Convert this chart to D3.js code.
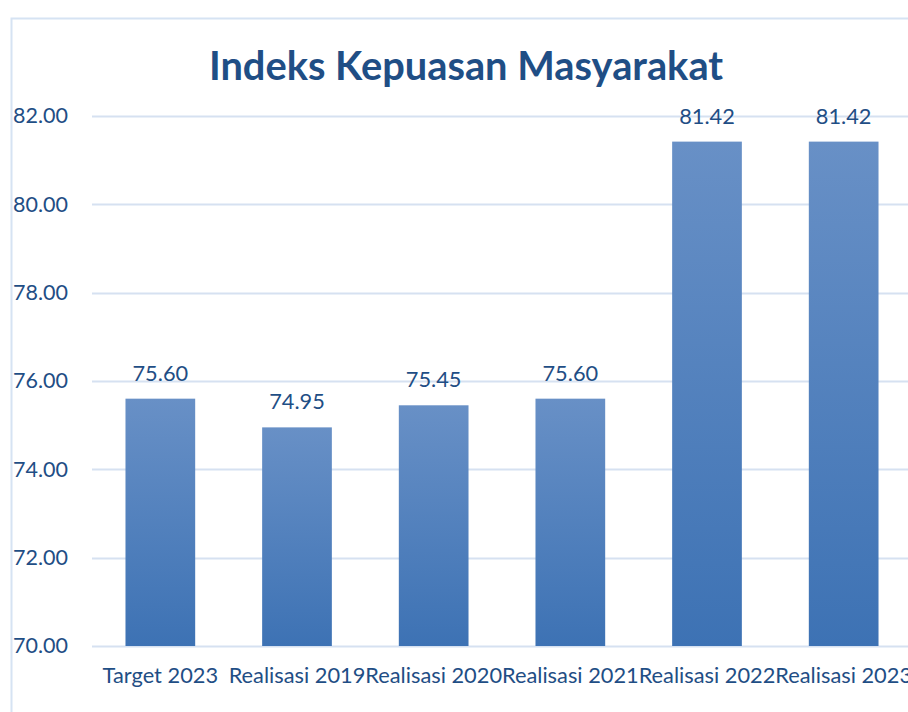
<!DOCTYPE html>
<html>
<head>
<meta charset="utf-8">
<script src="https://cdn.jsdelivr.net/npm/d3@7"></script>
<style>
  html, body { margin: 0; padding: 0; background: #fff; }
  svg { display: block; }
  text { font-family: Lato, "Open Sans", sans-serif; }
</style>
</head>
<body>
<svg id="chart" width="908" height="712"></svg>
<script>
const categories = ["Target 2023", "Realisasi 2019", "Realisasi 2020", "Realisasi 2021", "Realisasi 2022", "Realisasi 2023"];
const values = [75.60, 74.95, 75.45, 75.60, 81.42, 81.42];
const yTicks = [70, 72, 74, 76, 78, 80, 82];
const title = "Indeks Kepuasan Masyarakat";

const W = 908, H = 712;
const margin = { left: 92, right: -4, top: 116, bottom: 66 };
const textColor = "#1F4E85";
const gridColor = "#D6E1F1";

const svg = d3.select("#chart");

// outer chart frame
svg.append("rect")
  .attr("x", 11.5).attr("y", 18.5)
  .attr("width", 1000).attr("height", 1000)
  .attr("fill", "none").attr("stroke", "#D6E3F3").attr("stroke-width", 2);

const defs = svg.append("defs");
const grad = defs.append("linearGradient").attr("id", "barGrad")
  .attr("x1", 0).attr("y1", 0).attr("x2", 0).attr("y2", 1);
grad.append("stop").attr("offset", "0%").attr("stop-color", "#6890C6");
grad.append("stop").attr("offset", "100%").attr("stop-color", "#3D72B4");

const x = d3.scaleBand()
  .domain(categories)
  .range([margin.left, W - margin.right])
  .paddingInner(0.49).paddingOuter(0.245);

const y = d3.scaleLinear()
  .domain([70, 82])
  .range([H - margin.bottom, margin.top]);

// gridlines
svg.append("g")
  .selectAll("line")
  .data(yTicks)
  .join("line")
  .attr("x1", margin.left).attr("x2", W + 10)
  .attr("y1", d => Math.round(y(d)) + 0.5).attr("y2", d => Math.round(y(d)) + 0.5)
  .attr("stroke", gridColor).attr("stroke-width", 2);

// y axis labels
const yAxis = d3.axisLeft(y).tickValues(yTicks).tickFormat(d3.format(".2f")).tickSize(0).tickPadding(24);
const gy = svg.append("g").attr("transform", `translate(${margin.left},0)`).call(yAxis);
gy.select(".domain").remove();
gy.selectAll("text")
  .attr("fill", textColor)
  .style("font-size", "21.5px")
  .style("font-family", "Lato, sans-serif");

// bars
svg.append("g")
  .selectAll("rect")
  .data(values)
  .join("rect")
  .attr("x", (d, i) => x(categories[i]))
  .attr("width", x.bandwidth())
  .attr("y", d => y(d))
  .attr("height", d => y(70) - y(d))
  .attr("fill", "url(#barGrad)");

// value labels
svg.append("g")
  .selectAll("text")
  .data(values)
  .join("text")
  .attr("x", (d, i) => x(categories[i]) + x.bandwidth() / 2)
  .attr("y", d => y(d) - 18)
  .attr("text-anchor", "middle")
  .attr("fill", textColor)
  .style("font-size", "21.8px")
  .text(d => d3.format(".2f")(d));

// x axis labels
const xAxis = d3.axisBottom(x).tickSize(0).tickPadding(22);
const gx = svg.append("g").attr("transform", `translate(0,${y(70)})`).call(xAxis);
gx.select(".domain").remove();
gx.selectAll("text")
  .attr("fill", textColor)
  .style("font-size", "21.8px")
  .style("font-family", "Lato, sans-serif");

// title
svg.append("text")
  .attr("x", 466)
  .attr("y", 80)
  .attr("text-anchor", "middle")
  .attr("fill", "#1F4E85")
  .style("font-size", "39.8px")
  .style("font-weight", "bold")
  .text(title);
</script>
</body>
</html>
